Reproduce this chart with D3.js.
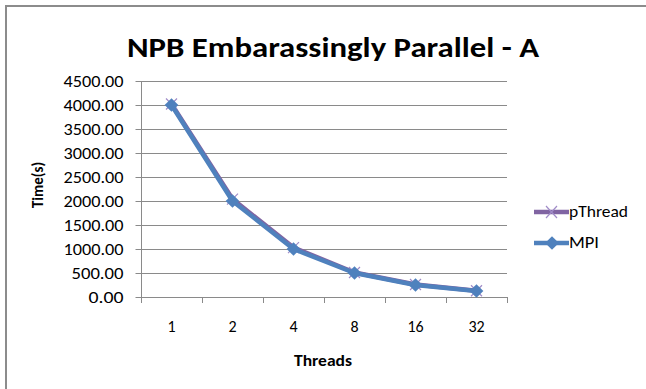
<!DOCTYPE html>
<html>
<head>
<meta charset="utf-8">
<script src="https://cdn.jsdelivr.net/npm/d3@7"></script>
<style>
  body { margin: 0; background: #fff; }
  svg text { font-family: Carlito, Calibri, "Open Sans", "Liberation Sans", sans-serif; fill: #000; }
</style>
</head>
<body>
<div id="chart"></div>
<script>
(function() {
    const width = 646;
    const height = 389;

    // data
    const threads = ["1", "2", "4", "8", "16", "32"];
    const pThread = [4020, 2040, 1030, 510, 260, 130];
    const mpi = [4000, 2000, 1000, 500, 250, 125];
    const yTicks = [0, 500, 1000, 1500, 2000, 2500, 3000, 3500, 4000, 4500];

    const left = 141, right = 507, top = 81, bottom = 297;

    const svg = d3.select("#chart")
        .append("svg")
        .attr("width", width)
        .attr("height", height);

    // frame (only top and left edges show)
    svg.append("line").attr("x1", 5).attr("x2", 646).attr("y1", 6).attr("y2", 6)
        .attr("stroke", "#8c8c8c").attr("stroke-width", 2);
    svg.append("line").attr("x1", 6).attr("x2", 6).attr("y1", 5).attr("y2", 389)
        .attr("stroke", "#8c8c8c").attr("stroke-width", 2);

    const x = d3.scaleBand().domain(threads).range([left, right]);
    const y = d3.scaleLinear().domain([0, 4500]).range([bottom, top]);

    // gridlines
    svg.append("g")
        .selectAll("line")
        .data(yTicks.filter(d => d > 0))
        .enter().append("line")
        .attr("x1", left).attr("x2", right)
        .attr("y1", d => Math.round(y(d)) + 0.5)
        .attr("y2", d => Math.round(y(d)) + 0.5)
        .attr("stroke", "#8a8a8a")
        .attr("stroke-width", 1);

    // y axis
    const yAxis = svg.append("g")
        .attr("transform", `translate(${left + 0.5},0)`)
        .call(d3.axisLeft(y).tickValues(yTicks).tickFormat(d3.format(".2f")).tickSize(6).tickPadding(12));
    yAxis.select(".domain").attr("stroke", "#8a8a8a").attr("d", `M0,${top}V${bottom}`);
    yAxis.selectAll(".tick line").attr("stroke", "#8a8a8a");
    yAxis.selectAll("text").style("font-size", "16px").attr("fill", "#000")
        .attr("textLength", 60).attr("lengthAdjust", "spacingAndGlyphs")
        .each(function(d) { if (d < 1000) d3.select(this).attr("textLength", d === 0 ? 35 : 52); });

    // x axis
    const xAxis = svg.append("g")
        .attr("transform", `translate(0,${Math.round(bottom) + 0.5})`)
        .call(d3.axisBottom(x).tickSize(0).tickPadding(23));
    xAxis.select(".domain").attr("stroke", "#8a8a8a").attr("d", `M${left},0H${right}`);
    xAxis.selectAll("text").style("font-size", "16px").attr("fill", "#000");

    // category boundary ticks
    svg.append("g")
        .selectAll("line")
        .data(d3.range(threads.length + 1))
        .enter().append("line")
        .attr("x1", i => Math.round(left + i * x.step()) + 0.5)
        .attr("x2", i => Math.round(left + i * x.step()) + 0.5)
        .attr("y1", bottom).attr("y2", bottom + 6)
        .attr("stroke", "#8a8a8a");

    const cx = d => x(d) + x.bandwidth() / 2;

    const line = d3.line()
        .x((d, i) => cx(threads[i]))
        .y(d => y(d));

    const purple = "#8064a2";
    const blue = "#4f81bd";

    // pThread series
    svg.append("path")
        .datum(pThread)
        .attr("d", line)
        .attr("fill", "none")
        .attr("stroke", purple)
        .attr("stroke-width", 4.5)
        .attr("stroke-linejoin", "round");

    svg.append("g")
        .selectAll("path")
        .data(pThread)
        .enter().append("path")
        .attr("d", (d, i) => {
            const px = cx(threads[i]), py = y(d), r = 5.5;
            return `M${px - r},${py - r}L${px + r},${py + r}M${px - r},${py + r}L${px + r},${py - r}`;
        })
        .attr("stroke", "#a08cc8")
        .attr("stroke-width", 1.2);

    // MPI series
    svg.append("path")
        .datum(mpi)
        .attr("d", line)
        .attr("fill", "none")
        .attr("stroke", blue)
        .attr("stroke-width", 4.5)
        .attr("stroke-linejoin", "round");

    const diamond = d3.symbol().type(d3.symbolDiamond2).size(120);
    svg.append("g")
        .selectAll("path")
        .data(mpi)
        .enter().append("path")
        .attr("transform", (d, i) => `translate(${cx(threads[i])},${y(d)})`)
        .attr("d", diamond)
        .attr("fill", blue);

    // title
    svg.append("text")
        .attr("x", 333)
        .attr("y", 57)
        .attr("text-anchor", "middle")
        .style("font-size", "29px")
        .style("font-weight", "bold")
        .attr("textLength", 412)
        .attr("lengthAdjust", "spacingAndGlyphs")
        .text("NPB Embarassingly Parallel - A");

    // axis titles
    svg.append("text")
        .attr("x", 323)
        .attr("y", 366)
        .attr("text-anchor", "middle")
        .style("font-size", "15px")
        .style("font-weight", "bold")
        .attr("textLength", 58)
        .attr("lengthAdjust", "spacingAndGlyphs")
        .text("Threads");

    svg.append("text")
        .attr("transform", "translate(43,185) rotate(-90)")
        .attr("text-anchor", "middle")
        .style("font-size", "15px")
        .style("font-weight", "bold")
        .text("Time(s)");

    // legend
    const legend = [
        { name: "pThread", color: purple, y: 212, w: 59 },
        { name: "MPI", color: blue, y: 243, w: 30 }
    ];
    const lg = svg.append("g")
        .selectAll("g")
        .data(legend)
        .enter().append("g");
    lg.append("line")
        .attr("x1", 534).attr("x2", 569)
        .attr("y1", d => d.y).attr("y2", d => d.y)
        .attr("stroke", d => d.color)
        .attr("stroke-width", 4.5);
    lg.filter(d => d.name === "pThread").append("path")
        .attr("d", d => `M546,${d.y - 6}L557,${d.y + 6}M546,${d.y + 6}L557,${d.y - 6}`)
        .attr("stroke", "#a08cc8")
        .attr("stroke-width", 1.2);
    lg.filter(d => d.name === "MPI").append("path")
        .attr("transform", d => `translate(552,${d.y})`)
        .attr("d", diamond)
        .attr("fill", blue);
    lg.append("text")
        .attr("x", 569)
        .attr("y", d => d.y + 5)
        .style("font-size", "16px")
        .attr("textLength", d => d.w)
        .attr("lengthAdjust", "spacingAndGlyphs")
        .text(d => d.name);
})();
</script>
</body>
</html>
